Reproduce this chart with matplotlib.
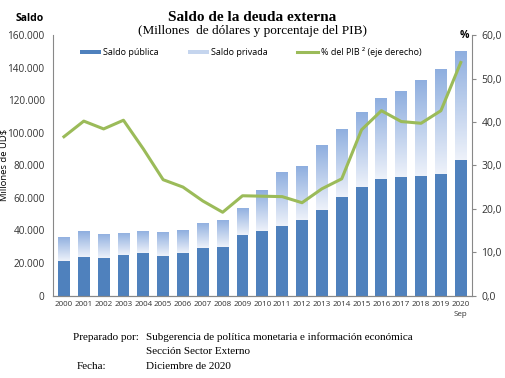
import numpy as np
import matplotlib
matplotlib.use('Agg')
import matplotlib.pyplot as plt
from matplotlib.colors import LinearSegmentedColormap
from matplotlib.patches import Patch
from matplotlib.lines import Line2D

years = ['2000', '2001', '2002', '2003', '2004', '2005', '2006', '2007', '2008', '2009',
         '2010', '2011', '2012', '2013', '2014', '2015', '2016', '2017', '2018', '2019', '2020\nSep']
# total external debt (millones US$)
total = [36200, 39500, 37600, 38300, 39700, 39100, 40300, 44800, 46700, 54100,
         65000, 76100, 79400, 92500, 102600, 112500, 121100, 125400, 132600, 139000, 150500]
# public debt
publica = [21000, 23900, 22800, 24700, 25900, 24300, 26300, 29000, 29600, 37200,
           39900, 42800, 46500, 52600, 60300, 66600, 71600, 72600, 73600, 74400, 83500]
# % del PIB
pct_pib = [36.6, 40.2, 38.4, 40.4, 33.8, 26.7, 25.0, 21.8, 19.2, 23.0,
           22.9, 22.8, 21.4, 24.6, 26.9, 38.2, 42.6, 40.1, 39.7, 42.6, 53.7]

privada = [t - p for t, p in zip(total, publica)]

blue = '#4F81BD'
green = '#9BBB59'
spine_col = '#888888'
sans = ['Open Sans', 'DejaVu Sans']
serif = ['Liberation Serif', 'DejaVu Serif']

fig = plt.figure(figsize=(5.05, 3.78), dpi=100)
ax = fig.add_axes([0.105, 0.218, 0.829, 0.689])
ax2 = ax.twinx()

x = np.arange(len(years))
w = 0.6
ax.bar(x, publica, width=w, color=blue, zorder=2)
bars = ax.bar(x, privada, width=w, bottom=publica, color='none', zorder=2)

# gradient fill for private debt bars
cmap = LinearSegmentedColormap.from_list('grad', ['#EEF2FA', '#8EAEDF'])
grad = np.linspace(0, 1, 256).reshape(-1, 1)
for b in bars:
    x0 = b.get_x()
    y0 = b.get_y()
    im = ax.imshow(grad, cmap=cmap, origin='lower', aspect='auto',
                   extent=[x0, x0 + b.get_width(), y0, y0 + b.get_height()], zorder=2)
    im.set_clip_path(b)

ax.set_xlim(-0.55, len(years) - 0.45)
ax.set_ylim(0, 160000)
ax.set_yticks(np.arange(0, 160001, 20000))
ax.set_yticklabels([f'{v:,}'.replace(',', '.') for v in range(0, 160001, 20000)],
                   fontsize=7.2, family=sans, color='#333333')
ax.set_xticks(x)
ax.set_xticklabels(years, fontsize=5.8, family=sans, color='#333333', linespacing=1.6)
ax.tick_params(axis='x', length=0, pad=4)
ax.tick_params(axis='y', length=0, pad=6)
ax.set_ylabel('Millones de UD$', fontsize=6.8, family=sans)
ax.yaxis.set_label_coords(-0.106, 0.5)

ax2.plot(x, pct_pib, color=green, linewidth=2.2, zorder=3)
ax2.set_ylim(0, 60)
ax2.set_yticks(np.arange(0, 61, 10))
ax2.set_yticklabels([f'{v:.1f}'.replace('.', ',') for v in range(0, 61, 10)],
                    fontsize=7.5, family=sans, color='#333333')
ax2.tick_params(axis='y', length=3, pad=4, color=spine_col)

for a in (ax, ax2):
    a.spines['top'].set_visible(False)
    for s in ('left', 'right', 'bottom'):
        a.spines[s].set_color(spine_col)
        a.spines[s].set_linewidth(0.8)
ax2.spines['left'].set_visible(False)
ax.spines['right'].set_visible(False)

handles = [Patch(facecolor=blue), Patch(facecolor='#C5D5EE'), Line2D([0], [0], color=green, lw=2.2)]
labels = ['Saldo pública', 'Saldo privada', '% del PIB ² (eje derecho)']
leg = ax2.legend(handles, labels, loc='upper left', bbox_to_anchor=(0.045, 0.985), ncol=3,
                 frameon=False, prop={'family': sans, 'size': 6.5}, handlelength=2.3,
                 handleheight=0.45, handletextpad=0.3, columnspacing=3.2)

fig.text(0.5, 0.955, 'Saldo de la deuda externa', ha='center', va='center',
         fontsize=11, fontweight='bold', family=serif)
fig.text(0.5, 0.918, '(Millones  de dólares y porcentaje del PIB)', ha='center', va='center',
         fontsize=9.5, family=serif)
fig.text(0.058, 0.952, 'Saldo', ha='center', va='center', fontsize=7.5, fontweight='bold', family=sans)
fig.text(0.92, 0.906, '%', ha='center', va='center', fontsize=7.5, fontweight='bold', family=sans)

fig.text(0.145, 0.108, 'Preparado por:', fontsize=8, family=serif, va='center')
fig.text(0.29, 0.108, 'Subgerencia de política monetaria e información económica',
         fontsize=8, family=serif, va='center')
fig.text(0.29, 0.069, 'Sección Sector Externo', fontsize=8, family=serif, va='center')
fig.text(0.152, 0.030, 'Fecha:', fontsize=8, family=serif, va='center')
fig.text(0.29, 0.030, 'Diciembre de 2020', fontsize=8, family=serif, va='center')

fig.savefig('out.png', dpi=100)
